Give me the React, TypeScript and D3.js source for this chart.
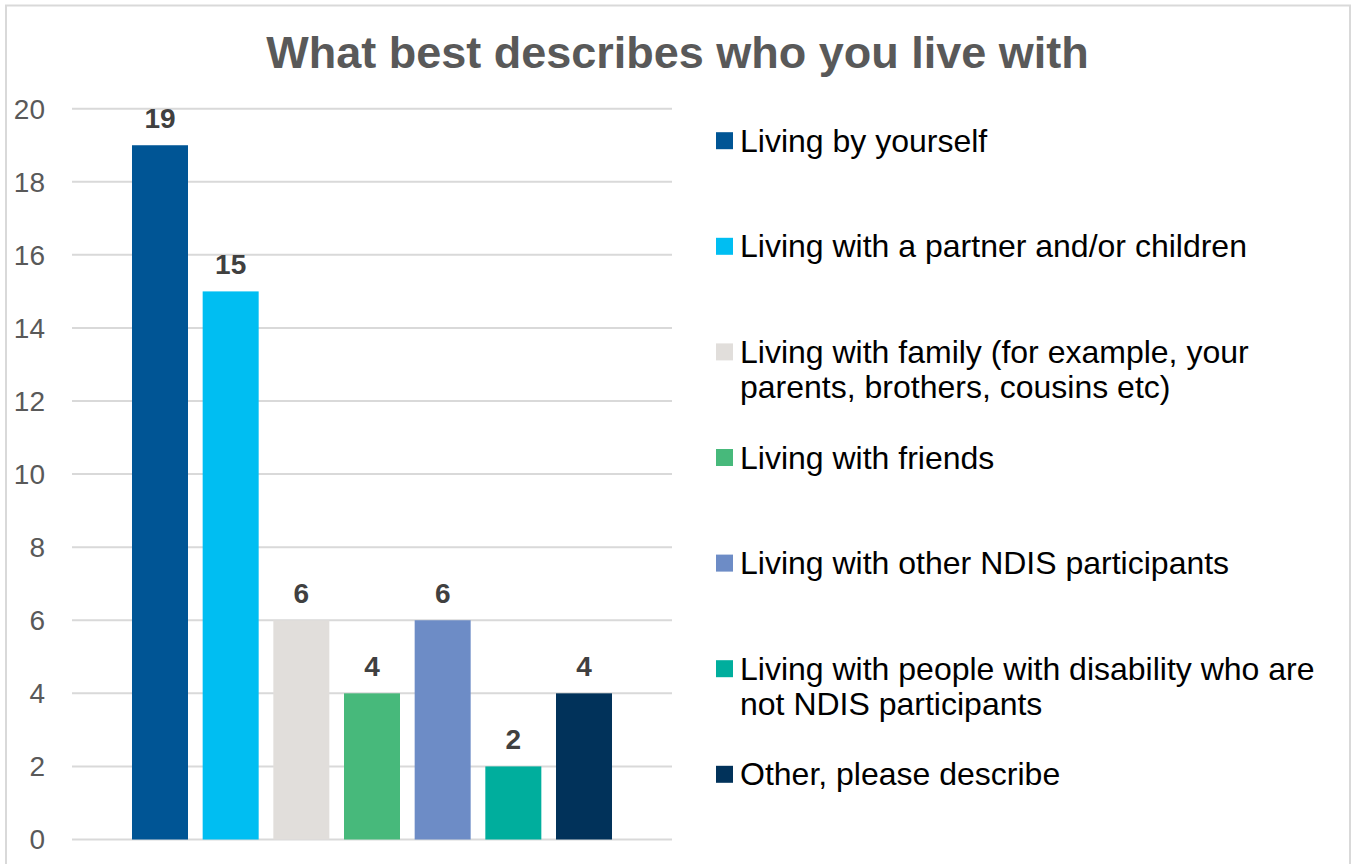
import React from "react";
import * as d3 from "d3";

const title = "What best describes who you live with";
const categories = [
  "Living by yourself",
  "Living with a partner and/or children",
  "Living with family (for example, your parents, brothers, cousins etc)",
  "Living with friends",
  "Living with other NDIS participants",
  "Living with people with disability who are not NDIS participants",
  "Other, please describe",
];
const values = [19, 15, 6, 4, 6, 2, 4];
const colors = ["#005595", "#00BEF2", "#E1DEDB", "#47B97B", "#6D8CC6", "#00AE9D", "#01325A"];
const yTicks = [0, 2, 4, 6, 8, 10, 12, 14, 16, 18, 20];

const W = 1357;
const H = 864;
const FONT = "'Liberation Sans', Arial, Helvetica, sans-serif";

function wrapText(text: string, maxWidth: number, font: string): string[] {
  const canvas = document.createElement("canvas");
  const ctx = canvas.getContext("2d");
  if (!ctx) return [text];
  ctx.font = font;
  const words = text.split(" ");
  const lines: string[] = [];
  let cur = "";
  for (const w of words) {
    const test = cur ? cur + " " + w : w;
    if (ctx.measureText(test).width > maxWidth && cur) {
      lines.push(cur);
      cur = w;
    } else {
      cur = test;
    }
  }
  if (cur) lines.push(cur);
  return lines;
}

export default function App() {
  const plotLeft = 72;
  const plotRight = 672;
  const y = d3.scaleLinear().domain([0, 20]).range([839.5, 108.7]);
  const x = d3
    .scaleBand<string>()
    .domain(categories)
    .range([plotLeft, plotRight])
    .paddingInner(0.2075)
    .paddingOuter(0.849);

  const legendFont = `32px ${FONT}`;
  const legendX = 716;
  const legendTop = 151.7;
  const legendStep = 105.6;
  const lineH = 35;

  return (
    <svg
      width={W}
      height={H}
      style={{ position: "absolute", left: 0, top: 0, background: "#fff" }}
      fontFamily={FONT}
    >
      <rect x={0} y={0} width={W} height={H} fill="#fff" />
      <rect x={6} y={5.5} width={1344} height={870} fill="#fff" stroke="#D9D9D9" strokeWidth={2} />
      <text
        x={677.5}
        y={67.5}
        textAnchor="middle"
        fontSize={45}
        fontWeight="bold"
        fill="#595959"
      >
        {title}
      </text>
      {yTicks.map((t) => (
        <g key={t}>
          <line x1={plotLeft} x2={plotRight} y1={y(t)} y2={y(t)} stroke="#D9D9D9" strokeWidth={2} />
          <text x={45} y={y(t)} dy="0.35em" textAnchor="end" fontSize={28} fill="#595959">
            {t}
          </text>
        </g>
      ))}
      {categories.map((c, i) => (
        <g key={c}>
          <rect
            x={x(c)}
            y={y(values[i])}
            width={x.bandwidth()}
            height={y(0) - y(values[i])}
            fill={colors[i]}
          />
          <text
            x={(x(c) as number) + x.bandwidth() / 2}
            y={y(values[i]) - 17.5}
            textAnchor="middle"
            fontSize={28}
            fontWeight="bold"
            fill="#404040"
          >
            {values[i]}
          </text>
        </g>
      ))}
      {categories.map((c, i) => {
        const lines = wrapText(c, 580, legendFont);
        const base = legendTop + i * legendStep;
        return (
          <g key={"lg" + c}>
            <rect x={legendX} y={base - 19.5} width={17} height={17} fill={colors[i]} />
            <text x={740} y={base} fontSize={32} fill="#000">
              {lines.map((l, j) => (
                <tspan key={j} x={740} y={base + j * lineH}>
                  {l}
                </tspan>
              ))}
            </text>
          </g>
        );
      })}
    </svg>
  );
}
